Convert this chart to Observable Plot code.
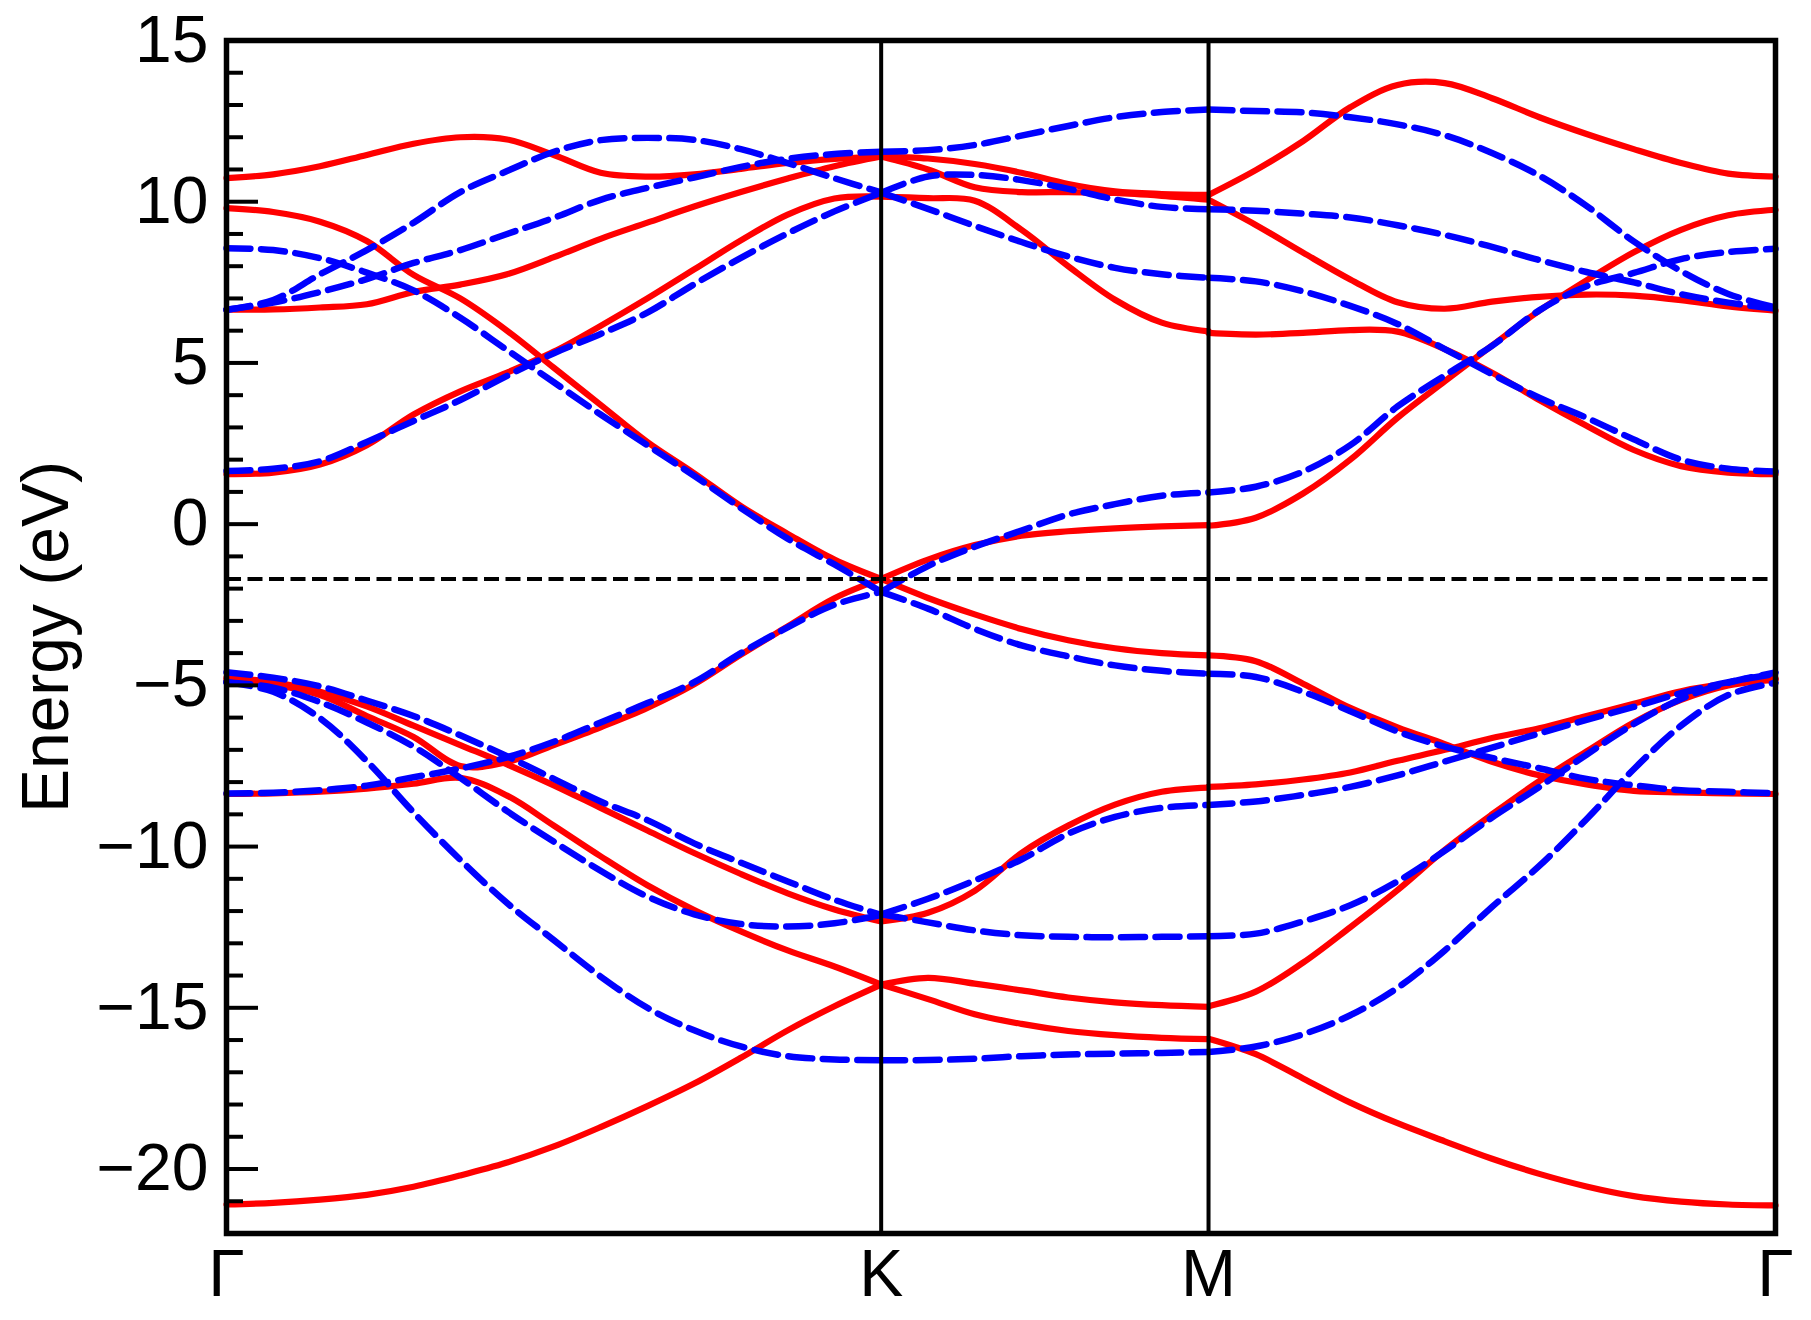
<!DOCTYPE html>
<html>
<head>
<meta charset="utf-8">
<script src="https://cdn.jsdelivr.net/npm/d3@7"></script>
<script src="https://cdn.jsdelivr.net/npm/@observablehq/plot@0.6"></script>
<style>
  html, body { margin: 0; padding: 0; background: #ffffff; }
  #chart { width: 1811px; height: 1320px; }
</style>
</head>
<body>
<div id="chart"></div>
<script>
// ---- k-path sampling (path length units), high-symmetry points ----
const kTicks = [0, 1.3333, 2.0, 3.1547];
const kNames = ["Γ", "K", "M", "Γ"];
const kGK = [0, 0.0952, 0.1905, 0.2857, 0.381, 0.4762, 0.5714, 0.6667, 0.7619, 0.8571, 0.9524, 1.0476, 1.1429, 1.2381, 1.3333];
const kKM = [1.3333, 1.4286, 1.5238, 1.619, 1.7143, 1.8095, 1.9048, 2.0];
const kMG = [2.0, 2.0962, 2.1925, 2.2887, 2.3849, 2.4811, 2.5774, 2.6736, 2.7698, 2.866, 2.9623, 3.0585, 3.1547];

// ---- energies (eV), solid red bands ----
const redGK = [
  [10.73, 10.85, 11.1, 11.45, 11.8, 12.0, 11.93, 11.45, 10.9, 10.78, 10.85, 11.02, 11.2, 11.33, 11.4],
  [9.8, 9.68, 9.38, 8.78, 7.73, 7.0, 6.0, 4.85, 3.7, 2.55, 1.58, 0.56, -0.3, -1.1, -1.7],
  [6.65, 6.66, 6.72, 6.82, 7.2, 7.43, 7.75, 8.28, 8.85, 9.35, 9.85, 10.3, 10.72, 11.1, 11.4],
  [1.55, 1.6, 1.85, 2.45, 3.4, 4.12, 4.7, 5.35, 6.15, 7.0, 7.9, 8.8, 9.6, 10.1, 10.16],
  [-4.76, -4.9, -5.2, -5.65, -6.25, -6.85, -7.45, -8.1, -8.8, -9.5, -10.2, -10.85, -11.45, -11.95, -12.32],
  [-4.83, -4.98, -5.3, -5.95, -6.6, -7.5, -7.38, -6.85, -6.3, -5.7, -4.97, -4.05, -3.17, -2.3, -1.7],
  [-8.37, -8.35, -8.3, -8.2, -8.05, -7.87, -8.42, -9.35, -10.3, -11.2, -11.97, -12.63, -13.22, -13.72, -14.28],
  [-21.1, -21.05, -20.95, -20.8, -20.55, -20.2, -19.8, -19.3, -18.7, -18.05, -17.35, -16.55, -15.7, -14.95, -14.28]
];
const redKM = [
  [11.4, 11.34, 11.17, 10.9, 10.55, 10.32, 10.24, 10.21],
  [11.4, 11.0, 10.45, 10.3, 10.3, 10.27, 10.18, 10.06],
  [10.16, 10.11, 10.03, 9.13, 8.0, 6.96, 6.25, 5.98],
  [-1.7, -1.1, -0.65, -0.36, -0.22, -0.13, -0.07, -0.03],
  [-1.7, -2.29, -2.8, -3.25, -3.6, -3.85, -4.0, -4.07],
  [-12.32, -12.05, -11.37, -10.2, -9.35, -8.7, -8.3, -8.17],
  [-14.28, -14.07, -14.25, -14.46, -14.68, -14.83, -14.92, -14.97],
  [-14.28, -14.73, -15.2, -15.5, -15.72, -15.85, -15.93, -15.97]
];
const redMG = [
  [10.21, 10.98, 11.88, 12.93, 13.62, 13.68, 13.21, 12.62, 12.1, 11.63, 11.2, 10.87, 10.78],
  [10.06, 9.28, 8.42, 7.59, 6.88, 6.68, 6.9, 7.05, 7.12, 7.09, 6.95, 6.75, 6.62],
  [5.93, 5.88, 5.93, 6.02, 5.97, 5.43, 4.7, 3.85, 3.05, 2.3, 1.8, 1.6, 1.55],
  [-0.05, 0.2, 0.95, 2.0, 3.3, 4.43, 5.54, 6.62, 7.56, 8.43, 9.13, 9.58, 9.75],
  [-4.07, -4.25, -4.95, -5.7, -6.3, -6.82, -7.37, -7.79, -8.07, -8.27, -8.32, -8.35, -8.37],
  [-8.15, -8.07, -7.92, -7.7, -7.34, -7.0, -6.63, -6.33, -5.95, -5.57, -5.18, -4.94, -4.79],
  [-14.95, -14.5, -13.6, -12.5, -11.35, -10.1, -9.0, -7.97, -7.05, -6.15, -5.45, -5.0, -4.82],
  [-15.96, -16.44, -17.19, -17.94, -18.58, -19.14, -19.68, -20.15, -20.54, -20.84, -21.01, -21.1, -21.13]
];

// ---- energies (eV), dashed blue bands ----
const blueGK = [
  [6.65, 6.95, 7.75, 8.5, 9.35, 10.3, 10.95, 11.55, 11.91, 11.98, 11.92, 11.63, 11.2, 10.73, 10.29],
  [6.65, 6.87, 7.2, 7.6, 8.1, 8.5, 9.0, 9.5, 10.06, 10.43, 10.75, 11.08, 11.33, 11.48, 11.55],
  [8.56, 8.5, 8.25, 7.8, 7.25, 6.4, 5.4, 4.4, 3.4, 2.45, 1.5, 0.5, -0.45, -1.25, -2.1],
  [1.65, 1.72, 1.95, 2.55, 3.2, 3.85, 4.6, 5.3, 5.9, 6.56, 7.44, 8.26, 9.02, 9.7, 10.28],
  [-4.59, -4.76, -5.03, -5.47, -5.95, -6.55, -7.2, -7.9, -8.6, -9.18, -9.9, -10.5, -11.08, -11.65, -12.12],
  [-4.9, -5.07, -5.52, -6.15, -6.9, -7.87, -8.9, -9.85, -10.75, -11.55, -12.1, -12.4, -12.48, -12.38, -12.12],
  [-4.9, -5.2, -6.02, -7.35, -8.94, -10.41, -11.75, -12.9, -14.03, -15.0, -15.7, -16.2, -16.5, -16.6, -16.63],
  [-8.35, -8.33, -8.25, -8.11, -7.85, -7.58, -7.23, -6.75, -6.15, -5.55, -4.9, -4.0, -3.2, -2.5, -2.1]
];
const blueKM = [
  [11.55, 11.6, 11.76, 12.05, 12.35, 12.62, 12.78, 12.86],
  [10.28, 10.78, 10.83, 10.67, 10.4, 10.07, 9.84, 9.77],
  [10.28, 9.78, 9.25, 8.75, 8.3, 7.95, 7.75, 7.64],
  [-2.1, -1.3, -0.7, -0.2, 0.3, 0.62, 0.88, 0.98],
  [-2.1, -2.62, -3.25, -3.76, -4.1, -4.38, -4.55, -4.64],
  [-12.1, -11.62, -11.05, -10.4, -9.6, -9.08, -8.8, -8.71],
  [-12.1, -12.35, -12.6, -12.75, -12.8, -12.81, -12.8, -12.78],
  [-16.63, -16.62, -16.58, -16.5, -16.45, -16.42, -16.4, -16.37]
];
const blueMG = [
  [12.86, 12.81, 12.77, 12.62, 12.4, 12.06, 11.51, 10.81, 9.87, 8.77, 7.85, 7.14, 6.72],
  [9.77, 9.72, 9.63, 9.51, 9.27, 8.97, 8.6, 8.19, 7.82, 7.5, 7.13, 6.87, 6.68],
  [7.64, 7.53, 7.22, 6.77, 6.21, 5.43, 4.65, 3.92, 3.3, 2.63, 2.0, 1.72, 1.63],
  [0.98, 1.16, 1.63, 2.45, 3.65, 4.61, 5.53, 6.63, 7.38, 7.79, 8.22, 8.44, 8.54],
  [-4.64, -4.74, -5.2, -5.8, -6.43, -6.9, -7.25, -7.57, -7.9, -8.1, -8.25, -8.3, -8.35],
  [-8.71, -8.6, -8.4, -8.15, -7.79, -7.36, -6.93, -6.49, -6.07, -5.67, -5.24, -4.9, -4.64],
  [-12.78, -12.7, -12.32, -11.82, -11.08, -10.13, -9.1, -8.15, -7.15, -6.2, -5.42, -4.92, -4.6],
  [-16.37, -16.2, -15.82, -15.23, -14.38, -13.22, -11.87, -10.6, -9.15, -7.6, -6.25, -5.3, -4.92]
];

// ---- axis ticks / reference levels ----
const majorTicks = [-20, -15, -10, -5, 0, 5, 10, 15];
const minorTicks = [-21, -19, -18, -17, -16, -14, -13, -12, -11, -9, -8, -7, -6, -4, -3, -2, -1,
                    1, 2, 3, 4, 6, 7, 8, 9, 11, 12, 13, 14];
const fermiLevel = -1.7;
const yLabel = "Energy (eV)";

// ---- build tidy rows ----
function rows(kArr, bands, seg, spin) {
  return bands.flatMap((band, bi) => band.map((E, i) => ({k: kArr[i], E, id: `${spin}-${seg}-${bi}`})));
}
const redRows = [
  ...rows(kGK, redGK, "GK", "r"), ...rows(kKM, redKM, "KM", "r"), ...rows(kMG, redMG, "MG", "r")
];
const blueRows = [
  ...rows(kGK, blueGK, "GK", "b"), ...rows(kKM, blueKM, "KM", "b"), ...rows(kMG, blueMG, "MG", "b")
];
const nameOf = new Map(kTicks.map((k, i) => [k, kNames[i]]));

const W = 1811, H = 1320, mL = 226, mR = 36, mT = 40, mB = 87;
const plotW = W - mL - mR;
const FS = 66;

const chart = Plot.plot({
  width: W, height: H,
  marginLeft: mL, marginRight: mR, marginTop: mT, marginBottom: mB,
  style: {fontFamily: "'Liberation Sans', Arial, Helvetica, sans-serif", background: "#ffffff", color: "#000000", overflow: "visible"},
  x: {domain: [kTicks[0], kTicks[3]]},
  y: {domain: [-22, 15]},
  marks: [
    Plot.line(redRows, {x: "k", y: "E", z: "id", stroke: "#ff0000", strokeWidth: 6.2, curve: "catmull-rom"}),
    Plot.line(blueRows, {x: "k", y: "E", z: "id", stroke: "#0000ff", strokeWidth: 6.5, strokeDasharray: "24,10.5", curve: "catmull-rom"}),
    Plot.ruleY([fermiLevel], {stroke: "#000000", strokeWidth: 4, strokeDasharray: "15,6.5"}),
    Plot.ruleX([kTicks[1], kTicks[2]], {stroke: "#000000", strokeWidth: 4}),
    Plot.tickY(minorTicks, {y: d => d, stroke: "#000000", strokeWidth: 4, insetRight: plotW - 17}),
    Plot.tickY(majorTicks, {y: d => d, stroke: "#000000", strokeWidth: 4, insetRight: plotW - 32}),
    Plot.frame({stroke: "#000000", strokeWidth: 5.5}),
    Plot.axisY({ticks: majorTicks, tickSize: 0, tickPadding: 18, fontSize: FS, label: null}),
    Plot.axisX({ticks: kTicks, tickSize: 0, tickPadding: 16, fontSize: FS, label: null, tickFormat: d => nameOf.get(d)}),
    Plot.text([yLabel], {text: d => d, frameAnchor: "left", textAnchor: "middle", rotate: -90, lineAnchor: "bottom", dx: -159, fontSize: FS, fill: "#000000"})
  ]
});
document.getElementById("chart").appendChild(chart);
</script>
</body>
</html>
